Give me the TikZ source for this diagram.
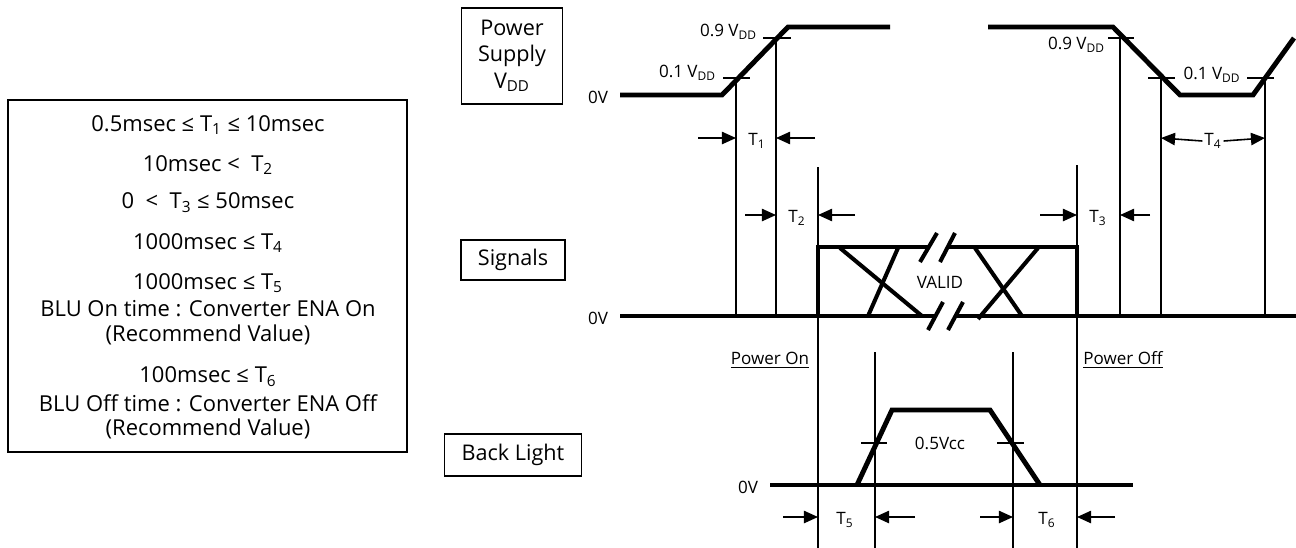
\documentclass[tikz,border=0pt]{standalone}
\usepackage{fontspec}
\setmainfont{Open Sans}
\usetikzlibrary{arrows.meta}

\tikzset{
  wave/.style={line width=2.8pt, line join=miter},
  slash/.style={line width=2.3pt},
  guide/.style={line width=0.8pt},
  vtick/.style={line width=0.9pt},
  dim/.style={line width=0.9pt, -{Triangle[length=8pt, width=7pt]}},
  namebox/.style={draw, line width=1.1pt, align=center, inner sep=2pt,
    font=\fontsize{12.3}{15}\selectfont},
  lbl/.style={font=\fontsize{9.7}{11}\selectfont, inner sep=1pt},
  spec/.style={font=\fontsize{12.5}{14}\selectfont, inner sep=0pt},
}
\newcommand{\vdd}{V\textsubscript{DD}}

\begin{document}
\begin{tikzpicture}[x=0.02cm, y=-0.02cm]
\useasboundingbox (0,0) rectangle (1296,548);

% timing limits
\draw[line width=1.1pt] (8,100) rectangle (407,452);
\foreach \yy/\txt [count=\i] in {
  125/0.5msec ≤ T\textsubscript{1} ≤ 10msec,
  165/10msec <\ \ T\textsubscript{2},
  203/0\ \ <\ \ T\textsubscript{3} ≤ 50msec,
  243/1000msec ≤ T\textsubscript{4},
  283/1000msec ≤ T\textsubscript{5},
  309/BLU On time : Converter ENA On,
  335/(Recommend Value),
  377/100msec ≤ T\textsubscript{6},
  403/BLU Off time : Converter ENA Off,
  429/(Recommend Value)}
  \node[spec] (spec\i) at (208,\yy) {\txt};

% row names
\node[namebox, minimum width=101*0.02cm, minimum height=96*0.02cm] (supply) at (512,56) {Power\\Supply\\\vdd};
\node[namebox, minimum width=104*0.02cm, minimum height=40*0.02cm] (signals) at (513,260) {Signals};
\node[namebox, minimum width=137*0.02cm, minimum height=42*0.02cm] (backlight) at (513,455) {Back Light};

% power supply
\draw[wave] (620,95) -- (722,95) -- (788,27) -- (890,27);
\draw[wave] (988,27) -- (1113,27) -- (1180,95) -- (1253,95) -- (1294,38);
\draw[vtick] (723,78) -- (750,78);
\draw[vtick] (763,38) -- (791,38);
\draw[vtick] (1108,38) -- (1134,38);
\draw[vtick] (1148,78) -- (1175,78);
\draw[vtick] (1247,78) -- (1274,78);
\node[lbl] (zeroA) at (598,97) {0V};
\node[lbl, anchor=east] (hiA) at (759,32) {0.9 \vdd};
\node[lbl, anchor=east] (loA) at (718,73) {0.1 \vdd};
\node[lbl, anchor=east] (hiB) at (1107,45) {0.9 \vdd};
\node[lbl] (loB) at (1212,75) {0.1 \vdd};

% signals
\draw[wave] (620,316) -- (936,316);
\draw[wave] (955,316) -- (1296,316);
\draw[wave] (818,316) -- (818,247) -- (928,247);
\draw[wave] (947,247) -- (1077,247) -- (1077,316);
\draw[slash] (840,248) -- (922,316);
\draw[slash] (898,248) -- (868,316);
\draw[slash] (975,248) -- (1022,316);
\draw[slash] (1038,248) -- (978,319);
\draw[slash] (920,262) -- (937,233);
\draw[slash] (940,262) -- (955,233);
\draw[slash] (928,330) -- (943,302);
\draw[slash] (948,330) -- (963,302);
\node[lbl] (zeroB) at (598,318) {0V};
\node[lbl] (valid) at (940,282) {VALID};
\node[lbl] (pon) at (770,360) {\underline{Power On}};
\node[lbl] (poff) at (1123,360) {\underline{Power Off}};

% back light
\draw[wave] (770,485) -- (1133,485);
\draw[wave] (857,485) -- (892,410) -- (990,410) -- (1040,485);
\draw[vtick] (861,443) -- (887,443);
\draw[vtick] (997,443) -- (1024,443);
\node[lbl] (zeroC) at (748,487) {0V};
\node[lbl] (half) at (940,443) {0.5Vcc};

% guide lines
\foreach \xx/\ya/\yb in {736/78/316, 776/38/316, 1120/38/316, 1161/78/316,
  1265/78/316, 818/167/548, 1077/165/548, 875/352/548, 1013/352/548}
  \draw[guide] (\xx,\ya) -- (\xx,\yb);

% time marks
\node[lbl] (t1) at (757,141) {T\textsubscript{1}};
\draw[dim] (698,138) -- (736,138);
\draw[dim] (815,138) -- (776,138);
\node[lbl] (t2) at (797,218) {T\textsubscript{2}};
\draw[dim] (745,215) -- (776,215);
\draw[dim] (855,215) -- (818,215);
\node[lbl] (t3) at (1098,218) {T\textsubscript{3}};
\draw[dim] (1040,215) -- (1077,215);
\draw[dim] (1150,215) -- (1120,215);
\node[lbl] (t4) at (1213,141) {T\textsubscript{4}};
\draw[dim] (t4.west) -- (1161,138);
\draw[dim] (t4.east) -- (1265,138);
\node[lbl] (t5) at (845,520) {T\textsubscript{5}};
\draw[dim] (783,517) -- (818,517);
\draw[dim] (915,517) -- (875,517);
\node[lbl] (t6) at (1047,520) {T\textsubscript{6}};
\draw[dim] (980,517) -- (1013,517);
\draw[dim] (1115,517) -- (1077,517);
\end{tikzpicture}
\end{document}
